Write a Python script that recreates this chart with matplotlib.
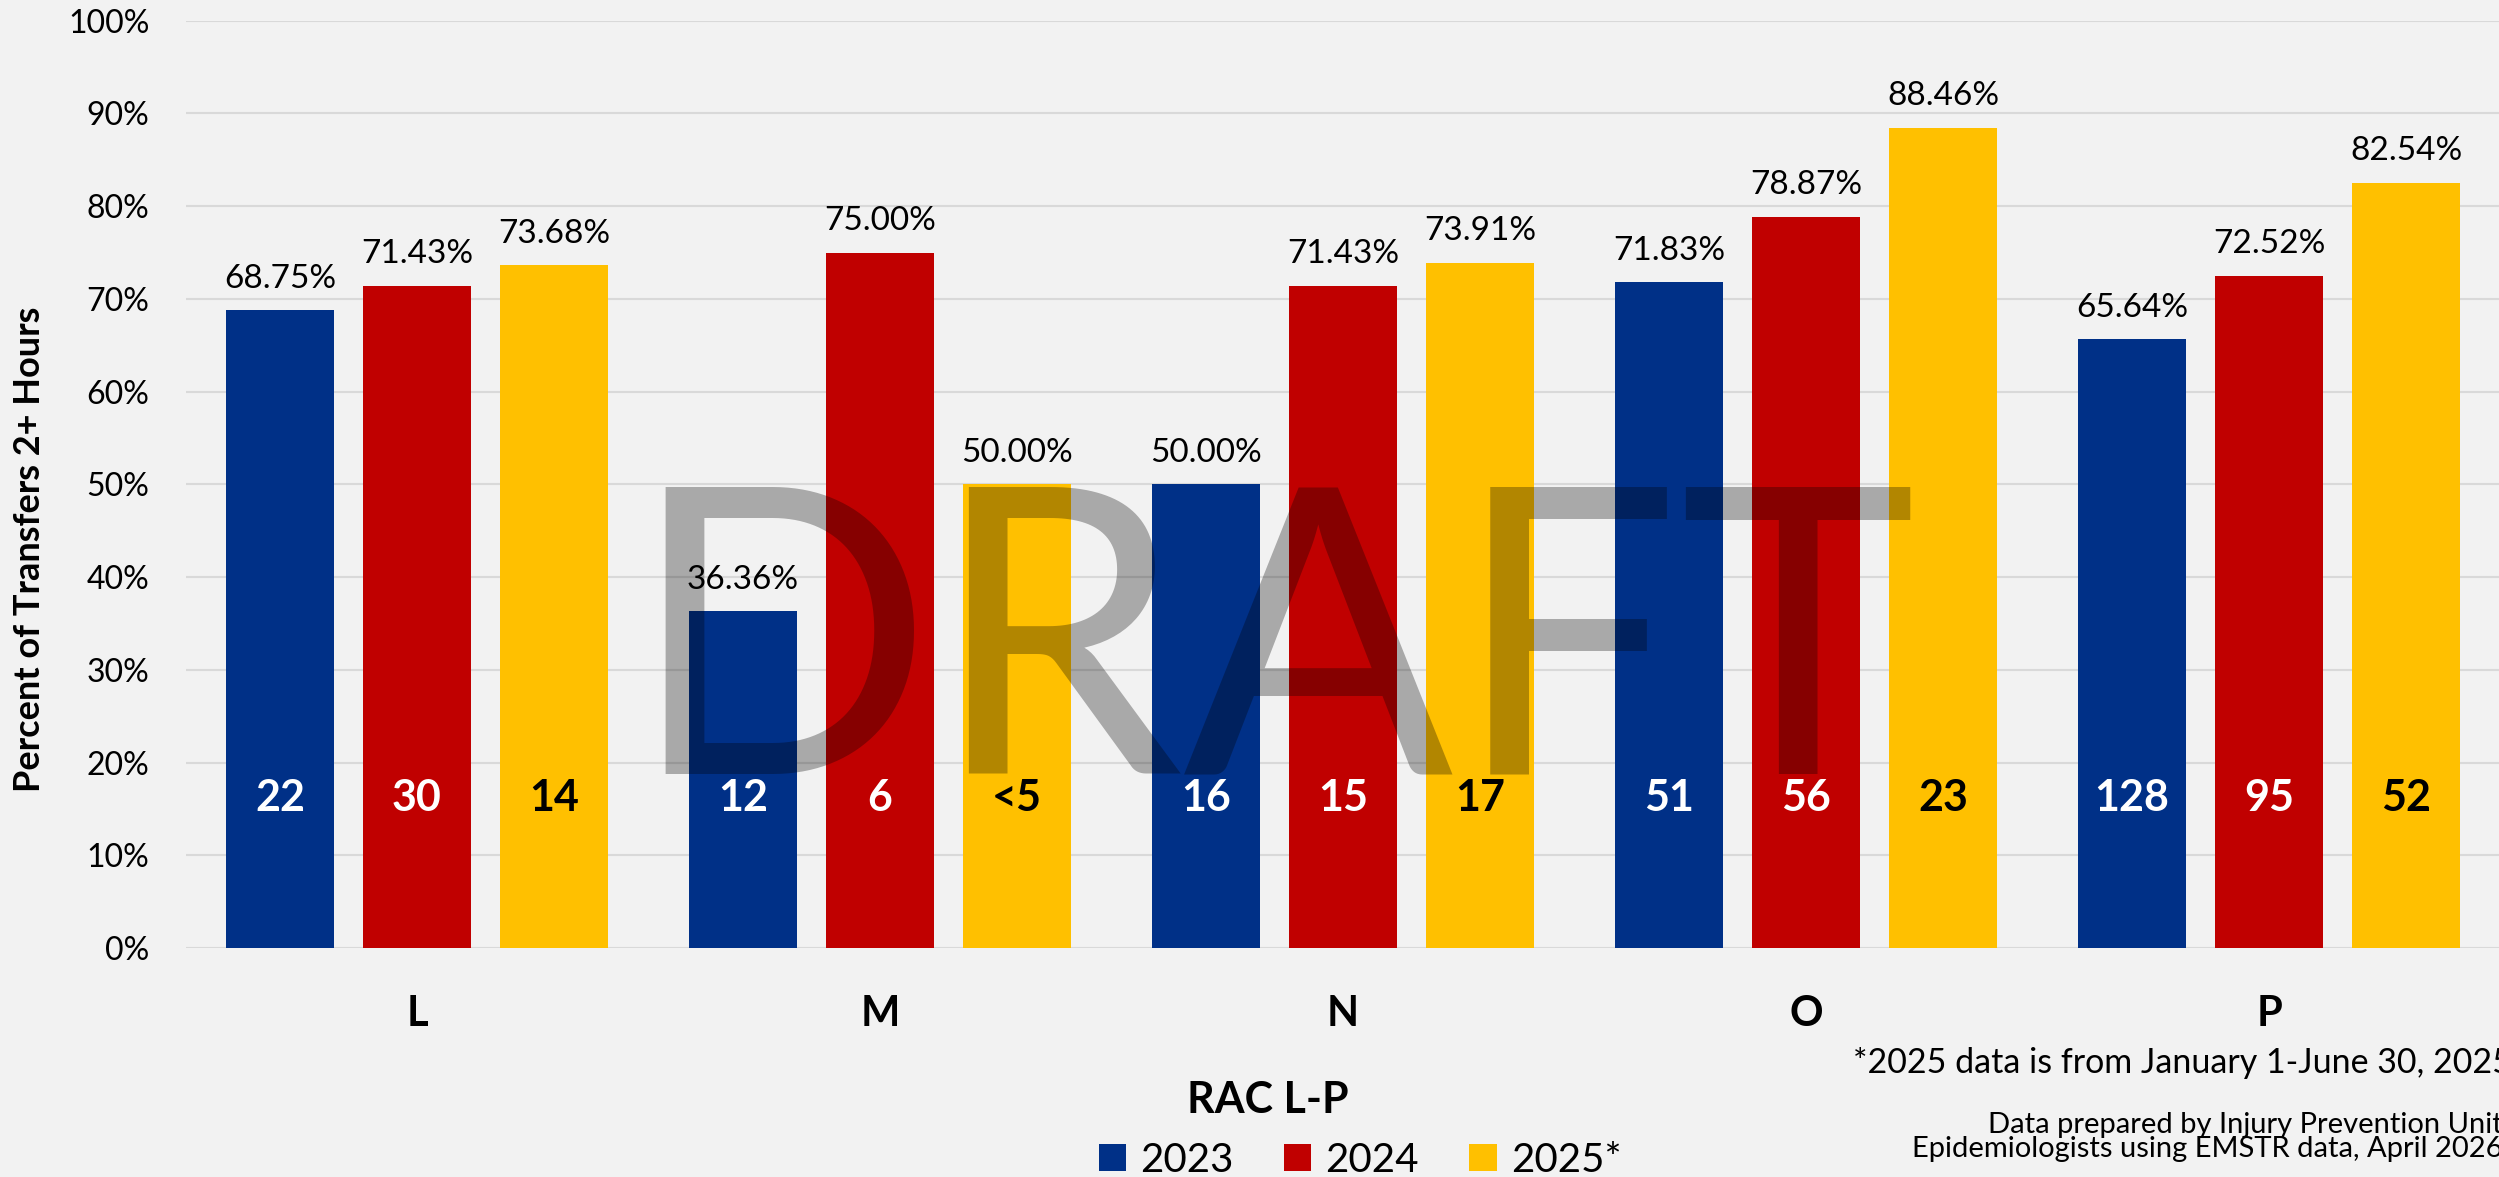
import matplotlib
matplotlib.use("Agg")
import matplotlib.pyplot as plt
import numpy as np

categories = ["L", "M", "N", "O", "P"]
years = ["2023", "2024", "2025*"]
pct_2023 = [68.75, 36.36, 50.00, 71.83, 65.64]
pct_2024 = [71.43, 75.00, 71.43, 78.87, 72.52]
pct_2025 = [73.68, 50.00, 73.91, 88.46, 82.54]
n_2023 = ["22", "12", "16", "51", "128"]
n_2024 = ["30", "6", "15", "56", "95"]
n_2025 = ["14", "<5", "17", "23", "52"]
y_ticks = [0, 10, 20, 30, 40, 50, 60, 70, 80, 90, 100]

colors = ["#003087", "#C00000", "#FFC000"]
count_colors = ["white", "white", "black"]
BG = "#F2F2F2"
FONT = "Lato"

W, H = 2499, 1177
fig = plt.figure(figsize=(W / 100, H / 100), dpi=100, facecolor=BG)
ax = fig.add_axes([185.5 / W, 1 - 948 / H, 2315 / W, (948 - 20.7) / H])
ax.set_facecolor(BG)

x = np.arange(len(categories))
bw = 0.2333
step = 0.2959
series = [pct_2023, pct_2024, pct_2025]
counts = [n_2023, n_2024, n_2025]
bars_all = []
for i, (vals, cnts) in enumerate(zip(series, counts)):
    xs = x + (i - 1) * step
    bars = ax.bar(xs, vals, width=bw, color=colors[i], label=years[i], zorder=2)
    bars_all.append(bars)
    for xi, v, c in zip(xs, vals, cnts):
        ax.annotate(f"{v:.2f}%", (xi, v), xytext=(0, 16), textcoords="offset points",
                    ha="center", va="baseline", fontsize=24, family=FONT, color="black")
        ax.text(xi, 14.8, c, ha="center", va="baseline", fontsize=31, family=FONT,
                fontweight="bold", color=count_colors[i], zorder=3)

ax.set_xlim(-0.5, 4.5)
ax.set_ylim(0, 100)
ax.set_yticks(y_ticks)
ax.set_yticklabels([f"{t}%" for t in y_ticks], fontsize=23, family=FONT)
ax.set_xticks(x)
ax.set_xticklabels(categories, fontsize=30, family=FONT, fontweight="bold")
ax.tick_params(axis="y", length=0, pad=26)
ax.tick_params(axis="x", length=0, pad=34)
ax.yaxis.grid(True, color="#D9D9D9", linewidth=1.5, zorder=0)
ax.set_axisbelow(True)
for s in ax.spines.values():
    s.set_visible(False)

# axis titles
fig.text(30 / W, 1 - 549 / H, "Percent of Transfers 2+ Hours", rotation=90,
         ha="center", va="center", fontsize=26, fontweight="bold", family=FONT)
fig.text(1268 / W, 1 - 1100 / H, "RAC L-P", ha="center", va="center",
         fontsize=31, fontweight="bold", family=FONT)

# legend
fig.legend(handles=bars_all, labels=years, loc="center", bbox_to_anchor=(1360 / W, 1 - 1160 / H),
           ncol=3, frameon=False, prop={"family": FONT, "size": 29},
           handlelength=0.68, handleheight=0.68, handletextpad=0.35, columnspacing=1.25,
           borderpad=0, borderaxespad=0)

# footnotes
fig.text(1853 / W, 1 - 1063 / H, "*2025 data is from January 1-June 30, 2025",
         ha="left", va="center", fontsize=24.5, family=FONT)
fig.text(1912 / W, 1 - 1137 / H,
         "Data prepared by Injury Prevention Unit\nEpidemiologists using EMSTR data, April 2026",
         ha="left", va="center", multialignment="right", fontsize=21, family=FONT,
         linespacing=0.95)

# watermark
fig.text(1272 / W, 1 - 773 / H, "DRAFT", ha="center", va="baseline", fontsize=288,
         family=FONT, fontweight="normal", color="black", alpha=0.3, zorder=10)

fig.savefig("out.png", dpi=100, facecolor=BG)
